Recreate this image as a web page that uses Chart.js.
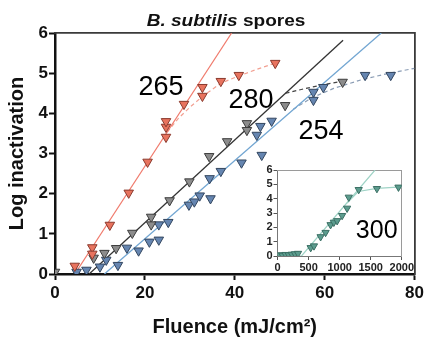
<!DOCTYPE html>
<html>
<head>
<meta charset="utf-8">
<script src="https://cdn.jsdelivr.net/npm/chart.js@4"></script>
<style>
  html, body { margin: 0; padding: 0; background: #ffffff; }
  #wrap { position: relative; width: 427px; height: 341px; overflow: hidden; }
  #main { position: absolute; left: 0; top: 0; z-index: 1; }
  #inset { position: absolute; left: 248px; top: 162px; z-index: 2; }
</style>
</head>
<body>
<div id="wrap">
  <canvas id="main" width="427" height="341"></canvas>
  <canvas id="inset" width="167" height="111"></canvas>
</div>
<script>
// ---------- DATA ----------
const xTicks = [0, 20, 40, 60, 80];
const yTicks = [0, 1, 2, 3, 4, 5, 6];

// 265 nm (red)
const uv265X = [4.4, 8.3, 8.3, 12.2, 16.4, 20.6, 24.7, 24.7, 24.7, 28.7, 32.8, 32.8, 36.9, 40.9, 49];
const uv265Y = [0.2, 0.66, 0.5, 1.22, 2.02, 2.79, 3.41, 3.66, 3.8, 4.23, 4.65, 4.43, 4.8, 4.95, 5.25];
const fit265X = [4.4, 39.3];
const fit265Y = [0, 6];
const tail265X = [24, 27.5, 30, 32.8, 36.9, 40.9, 45, 49];
const tail265Y = [3.4, 3.88, 4.15, 4.42, 4.75, 4.93, 5.1, 5.25];

// 280 nm (grey)
const uv280X = [0, 8.6, 11, 13.6, 17.2, 21.4, 21.4, 25.5, 29.9, 34.3, 38.3, 42.7, 42.7, 51.2, 64];
const uv280Y = [0.05, 0.4, 0.52, 0.64, 1.02, 1.42, 1.23, 1.83, 2.3, 2.93, 3.3, 3.75, 3.58, 4.2, 4.78];
const fit280X = [7.6, 64.1];
const fit280Y = [0, 5.82];
const tail280X = [51.3, 55, 60, 64];
const tail280Y = [4.5, 4.6, 4.72, 4.8];

// 254 nm (blue)
const uv254X = [4.8, 7, 10, 11.4, 14, 16, 18.6, 21, 23.1, 23.1, 25.2, 29.8, 31, 32.2, 34.6, 34.4, 36.9, 41.5, 46, 44.9, 45.7, 48.2, 57.5, 57.5, 59.7, 69, 74.7];
const uv254Y = [0.05, 0.1, 0.18, 0.35, 0.22, 0.65, 0.58, 0.8, 0.85, 1.23, 1.29, 1.72, 1.8, 1.95, 1.88, 2.38, 2.56, 2.77, 2.96, 3.46, 3.68, 3.81, 4.53, 4.33, 4.65, 4.95, 4.95];
const fit254X = [11, 72.6];
const fit254Y = [0, 6];
const tail254X = [53, 57, 62, 68, 74, 80];
const tail254Y = [4.1, 4.38, 4.62, 4.83, 4.99, 5.12];

// 300 nm inset (teal)
const insetXTicks = [0, 500, 1000, 1500, 2000];
const insetYTicks = [0, 1, 2, 3, 4, 5, 6];
const uv300X = [30, 80, 130, 180, 230, 280, 330, 534, 587, 694, 774, 854, 907, 960, 1040, 1120, 1147, 1307, 1600, 1947];
const uv300Y = [0.08, 0.05, 0.1, 0.08, 0.12, 0.15, 0.18, 0.58, 0.7, 1.34, 1.64, 2.18, 2.35, 2.46, 2.82, 3.33, 4.1, 4.63, 4.7, 4.8];
const fit300X = [0, 386, 1570];
const fit300Y = [0, 0, 6];
const tail300X = [1120, 1300, 1600, 2000];
const tail300Y = [3.7, 4.5, 4.72, 4.82];

// ---------- helpers ----------
const FAMILY = "'Liberation Sans', Arial, sans-serif";
const pts = (xs, ys) => xs.map((x, i) => ({ x: x, y: ys[i] }));

function markers(xs, ys, fill, edge, r) {
  return {
    type: 'scatter', data: pts(xs, ys), showLine: false,
    pointStyle: 'triangle', rotation: 180, pointRadius: r,
    pointBackgroundColor: fill, pointBorderColor: edge, pointBorderWidth: 1, order: 1
  };
}
function line(xs, ys, color, width, dash) {
  return {
    type: 'scatter', data: pts(xs, ys), showLine: true, pointRadius: 0,
    borderColor: color, borderWidth: width, borderDash: dash || [], fill: false, order: 5
  };
}
// an axis that draws only its border line (used for the top/right frame)
function frameAxis(position, color, width, axis) {
  return {
    type: 'linear', position: position, axis: axis, min: 0, max: 1,
    ticks: { display: false },
    grid: { display: true, drawOnChartArea: false, drawTicks: false },
    border: { display: true, color: color, width: width },
    afterFit: s => { if (axis === 'x') s.height = 0; else s.width = 0; }
  };
}

// free text annotations (and the mixed-style title)
function textPlugin(items, title) {
  return {
    id: 'textNotes',
    afterDraw(chart) {
      const ctx = chart.ctx;
      ctx.save();
      items.forEach(it => {
        ctx.font = it.font; ctx.fillStyle = '#000';
        ctx.textAlign = 'center'; ctx.textBaseline = 'alphabetic';
        ctx.fillText(it.text, it.x, it.y);
      });
      if (title) {
        const f1 = 'italic bold ' + title.size + 'px ' + FAMILY;
        const f2 = 'bold ' + title.size + 'px ' + FAMILY;
        ctx.font = f1; const w1 = ctx.measureText(title.a).width;
        ctx.font = f2; const w2 = ctx.measureText(title.b).width;
        ctx.translate(title.x, title.y); ctx.scale(title.sx, 1);
        const start = -(w1 + w2) / 2;
        ctx.textAlign = 'left'; ctx.fillStyle = '#111';
        ctx.font = f1; ctx.fillText(title.a, start, 0);
        ctx.font = f2; ctx.fillText(title.b, start + w1, 0);
      }
      ctx.restore();
    }
  };
}

// ---------- inset chart ----------
new Chart(document.getElementById('inset'), {
  type: 'scatter',
  data: {
    datasets: [
      markers(uv300X, uv300Y, '#5c9c8e', '#3b6f64', 4.2),
      line(fit300X, fit300Y, '#9fd3c6', 1.2),
      line(tail300X, tail300Y, '#9fd3c6', 1.2)
    ]
  },
  options: {
    responsive: false, animation: false,
    layout: { padding: { left: 0, right: 12, top: 8, bottom: 0 } },
    plugins: { legend: { display: false }, tooltip: { enabled: false } },
    scales: {
      x: {
        type: 'linear', min: 0, max: 2000,
        afterBuildTicks: s => { s.ticks = insetXTicks.map(v => ({ value: v })); },
        afterFit: s => { s.height = 17; },
        ticks: { callback: v => String(v), color: '#222', padding: 1, maxRotation: 0, autoSkip: false,
                 font: { size: 11, weight: 'bold', family: FAMILY } },
        grid: { drawOnChartArea: false, drawTicks: true, tickLength: 4, tickWidth: 1, tickColor: '#555' },
        border: { color: '#777', width: 1 }
      },
      y: {
        type: 'linear', min: 0, max: 6,
        afterBuildTicks: s => { s.ticks = insetYTicks.map(v => ({ value: v })); },
        afterFit: s => { s.width = 29.5; },
        ticks: { callback: v => String(v), color: '#222', padding: 1, autoSkip: false, z: 1,
                 font: { size: 11, weight: 'bold', family: FAMILY } },
        grid: { drawOnChartArea: false, drawTicks: true, tickLength: 4, tickWidth: 1, tickColor: '#555' },
        border: { color: '#777', width: 1 }
      },
      xTop: frameAxis('top', '#9a9a9a', 1, 'x'),
      yRight: frameAxis('right', '#9a9a9a', 1, 'y')
    }
  }
});

// ---------- main chart ----------
new Chart(document.getElementById('main'), {
  type: 'scatter',
  data: {
    datasets: [
      markers(uv265X, uv265Y, '#e8735e', '#8a3a2e', 5.5),
      markers(uv280X, uv280Y, '#8c8c8c', '#3c3c3c', 5.5),
      markers(uv254X, uv254Y, '#6585b0', '#33465f', 5.5),
      line(fit265X, fit265Y, '#f07a6c', 1.2),
      line(tail265X, tail265Y, '#f2a092', 1.2, [4, 3]),
      line(fit280X, fit280Y, '#333333', 1.3),
      line(tail280X, tail280Y, '#444444', 1.2, [4, 3]),
      line(fit254X, fit254Y, '#72a6d2', 1.3),
      line(tail254X, tail254Y, '#8a9cb4', 1.2, [4, 3])
    ]
  },
  options: {
    responsive: false, animation: false,
    layout: { padding: { left: 0, right: 9, top: 33, bottom: 0 } },
    plugins: { legend: { display: false }, tooltip: { enabled: false } },
    scales: {
      x: {
        type: 'linear', min: xTicks[0], max: xTicks[xTicks.length - 1],
        afterBuildTicks: s => { s.ticks = xTicks.map(v => ({ value: v })); },
        afterFit: s => { s.height = 67; },
        ticks: { callback: v => String(v), color: '#111', padding: 3, maxRotation: 0, autoSkip: false,
                 font: { size: 17, weight: 'bold', family: FAMILY } },
        grid: { drawOnChartArea: false, drawTicks: true, tickLength: 6, tickWidth: 2, tickColor: '#111' },
        border: { color: '#111', width: 2.5 },
        title: { display: true, text: 'Fluence (mJ/cm²)', color: '#111',
                 font: { size: 20, weight: 'bold', family: FAMILY }, padding: { top: 0, bottom: 2 } }
      },
      y: {
        type: 'linear', min: yTicks[0], max: yTicks[yTicks.length - 1],
        afterBuildTicks: s => { s.ticks = yTicks.map(v => ({ value: v })); },
        afterFit: s => { s.width = 55; },
        ticks: { callback: v => String(v), color: '#111', padding: 1, autoSkip: false,
                 font: { size: 17, weight: 'bold', family: FAMILY } },
        grid: { drawOnChartArea: false, drawTicks: true, tickLength: 6, tickWidth: 2, tickColor: '#111' },
        border: { color: '#111', width: 2.5 },
        title: { display: true, text: 'Log inactivation', color: '#111',
                 font: { size: 20, weight: 'bold', family: FAMILY }, padding: { top: 5, bottom: 0 } }
      },
      xTop: frameAxis('top', '#3a3a3a', 1.8, 'x'),
      yRight: frameAxis('right', '#3a3a3a', 1.8, 'y')
    }
  },
  plugins: [
    textPlugin([
      { text: '265', x: 161, y: 95, font: '27px ' + FAMILY },
      { text: '280', x: 251, y: 108, font: '27px ' + FAMILY },
      { text: '254', x: 321, y: 139, font: '27px ' + FAMILY },
      { text: '300', x: 376.7, y: 238.3, font: '25px ' + FAMILY }
    ], { a: 'B. subtilis', b: ' spores', size: 17, sx: 1.12, x: 226, y: 26 })
  ]
});
</script>
</body>
</html>
